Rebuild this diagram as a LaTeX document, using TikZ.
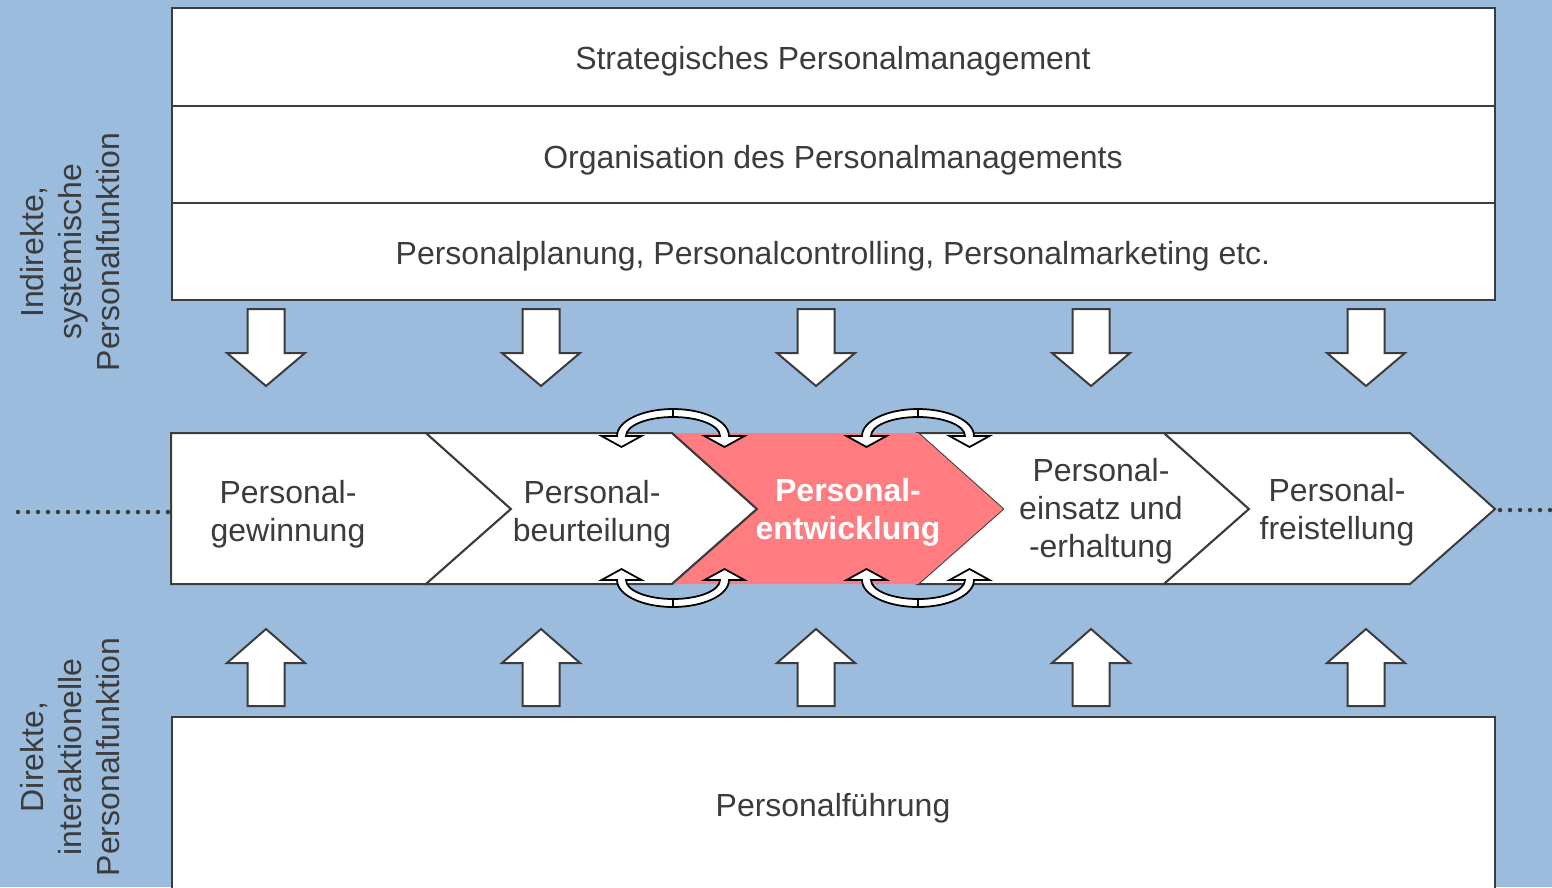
\documentclass[tikz,border=0pt]{standalone}
\usepackage{fontspec}
\setmainfont{Liberation Sans}
\definecolor{bg}{RGB}{156,188,222}
\definecolor{ln}{RGB}{60,60,60}
\definecolor{hl}{RGB}{255,124,128}
\begin{document}
\begin{tikzpicture}[x=0.02cm,y=-0.02cm,
  txt/.style={text=ln,font=\fontsize{18.2}{21.7}\selectfont,align=center,inner sep=0pt},
  boxline/.style={draw=ln,line width=0.05cm},
  shp/.style={draw=ln,fill=white,line width=0.04cm,line join=miter},
  dots/.style={ln,line width=0.09cm,line cap=round,dash pattern=on 0pt off 0.2cm}]
\useasboundingbox (0,0) rectangle (1552,887);
\clip (0,0) rectangle (1552,887);
\fill[bg] (0,0) rectangle (1552,887);
% top box
\filldraw[boxline,fill=white] (172,8) rectangle (1495,300);
\draw[boxline] (172,106) -- (1495,106);
\draw[boxline] (172,203) -- (1495,203);
\node[txt] (s1) at (833,61) {Strategisches Personalmanagement};
\node[txt] (s2) at (833,160) {Organisation des Personalmanagements};
\node[txt] (s3) at (833,256) {Personalplanung, Personalcontrolling, Personalmarketing etc.};
% bottom box
\filldraw[boxline,fill=white] (172,717) rectangle (1495,920);
\node[txt] (pf) at (833,808) {Personalführung};
% side labels
\node[txt,rotate=90] (ind) at (70,252) {Indirekte,\\systemische\\Personalfunktion};
\node[txt,rotate=90] (dir) at (70,757) {Direkte,\\interaktionelle\\Personalfunktion};
% block arrows
\foreach \c in {266,541,816,1091,1366}{
  \draw[shp] ({\c-18.5},309) -- ({\c+18.5},309) -- ({\c+18.5},353) -- ({\c+39},353)
     -- (\c,386) -- ({\c-39},353) -- ({\c-18.5},353) -- cycle;
  \draw[shp] (\c,629) -- ({\c+39},663) -- ({\c+18.5},663) -- ({\c+18.5},706)
     -- ({\c-18.5},706) -- ({\c-18.5},663) -- ({\c-39},663) -- cycle;
}
% dotted lines
\draw[dots] (18,512) -- (170,512);
\draw[dots] (1500,510) -- (1552,510);
% chevrons
\draw[shp] (171,433) -- (426,433) -- (511,509) -- (426,584) -- (171,584) -- cycle;
\foreach \x in {426,918,1164}{
  \draw[shp] (\x,433) -- ({\x+246},433) -- ({\x+331},509) -- ({\x+246},584)
     -- (\x,584) -- ({\x+85},509) -- cycle;
}
\fill[hl] (672,433) -- (918,433) -- (1003,509) -- (918,584) -- (672,584) -- (757,509) -- cycle;
\draw[ln,line width=0.04cm] (672,433) -- (757,509) -- (672,584);
\node[txt] (c1) at (288,514) {Personal-\\gewinnung};
\node[txt] (c2) at (592,514) {Personal-\\beurteilung};
\node[txt,text=white,font=\fontsize{18.2}{21.7}\selectfont\bfseries] (c3) at (848,512) {Personal-\\entwicklung};
\node[txt] (c4) at (1101,511) {Personal-\\einsatz und\\-erhaltung};
\node[txt] (c5) at (1337,512) {Personal-\\freistellung};
% curved double arrows
\foreach \cx/\cy/\s in {673/436/1,918/436/1,673/580/-1,918/580/-1}{
  \begin{scope}[shift={(\cx,\cy)},yscale=\s]
    \draw[draw=black,fill=white,line width=0.035cm,line join=miter]
      (-56,0) arc[start angle=180,end angle=360,x radius=56,y radius=27]
      -- (71.5,0) -- (51.5,11) -- (31.5,0) -- (47,0)
      arc[start angle=360,end angle=180,x radius=47,y radius=19]
      -- (-31.5,0) -- (-51.5,11) -- (-71.5,0) -- cycle;
    \draw[black,line width=0.03cm] (0,-27) -- (0,-19);
  \end{scope}
}
\end{tikzpicture}
\end{document}
